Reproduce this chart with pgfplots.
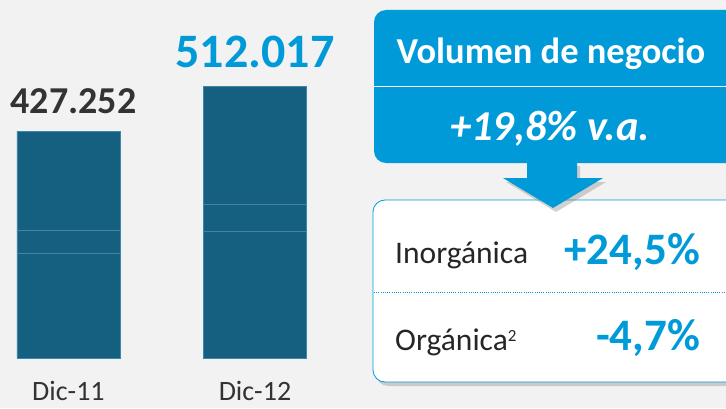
\documentclass[border=0pt]{standalone}
\usepackage{pgfplots}
\pgfplotsset{compat=1.18}
\usepackage{fontspec}
\setmainfont{Carlito}
\usetikzlibrary{shadows}
\definecolor{bgc}{HTML}{F2F2F2}
\definecolor{barc}{HTML}{155F80}
\definecolor{barline}{HTML}{3F86A8}
\definecolor{vablue}{HTML}{009AD8}
\definecolor{darktxt}{HTML}{333333}

\begin{document}
\begin{tikzpicture}
% canvas, 1pt = 1px of the reference
\fill[bgc] (0,0) rectangle (726pt,408pt);
\path[use as bounding box] (0,0) rectangle (726pt,408pt);
\clip (0,0) rectangle (726pt,408pt);

\begin{axis}[
    at={(0pt,49.7pt)}, anchor=south west,
    scale only axis,
    width=360pt, height=358.3pt,
    xmin=-0.367, xmax=1.563,
    ymin=0, ymax=673.8,
    enlargelimits=false,
    ybar stacked,
    bar width=103pt,
    axis x line=bottom, axis y line=none,
    x axis line style={draw=none},
    xtick={0,1},
    xticklabels={Dic-11, Dic-12},
    major tick length=0pt,
    xticklabel style={anchor=base, yshift=-42.5pt, text=darktxt,
        font=\fontsize{28}{32}\selectfont},
    clip=false,
]
\addplot[fill=barc, draw=barline, line width=0.6pt] coordinates {(0,197.4) (1,238.8)};
\addplot[fill=barc, draw=barline, line width=0.6pt] coordinates {(0,43.2) (1,50.8)};
\addplot[fill=barc, draw=barline, line width=0.6pt] coordinates {(0,186.6) (1,222.4)};
\node[anchor=base, text=darktxt, font=\fontsize{38}{44}\selectfont\bfseries,
      xshift=5pt] at (axis cs:0,461) {427.252};
\node[anchor=base, text=vablue, font=\fontsize{48}{56}\selectfont\bfseries]
      at (axis cs:1,546) {512.017};
\end{axis}

% blue summary box
\fill[vablue, rounded corners=12pt] (374pt,245pt) rectangle (740pt,398pt);
\draw[white, line width=1pt] (374pt,321pt) -- (726pt,321pt);
\node[anchor=base, text=white, font=\fontsize{36.5}{42}\selectfont\bfseries]
    at (551pt,344pt) {Volumen de negocio};
\node[anchor=base, text=white, font=\fontsize{42.5}{48}\selectfont\bfseries\itshape]
    at (550pt,268pt) {+19,8\% v.a.};

% white detail box
\filldraw[fill=white, draw=vablue, line width=0.8pt, rounded corners=12pt,
    drop shadow={shadow xshift=3pt, shadow yshift=-4pt, opacity=0.35}]
    (373pt,26pt) rectangle (740pt,208pt);
\draw[vablue, line width=1pt, dash pattern=on 1pt off 1.2pt] (374pt,116pt) -- (726pt,116pt);
\node[anchor=base west, text=black!85, font=\fontsize{31.5}{36}\selectfont, inner sep=0pt]
    at (395pt,145pt) {Inorgánica};
\node[anchor=base east, text=vablue, font=\fontsize{45}{52}\selectfont\bfseries, inner sep=0pt]
    at (700pt,144pt) {+24,5\%};
\node[anchor=base west, text=black!85, font=\fontsize{31.5}{36}\selectfont, inner sep=0pt]
    at (395pt,58pt) {Orgánica{\raisebox{9pt}{\fontsize{17}{20}\selectfont 2}}};
\node[anchor=base east, text=vablue, font=\fontsize{45}{52}\selectfont\bfseries, inner sep=0pt]
    at (700pt,58pt) {-4,7\%};

% arrow
\fill[vablue, drop shadow={shadow xshift=3pt, shadow yshift=-4pt, opacity=0.35}]
    (527pt,246pt) -- (577pt,246pt) -- (577pt,230pt) -- (603pt,230pt)
    -- (553pt,200pt) -- (503pt,230pt) -- (527pt,230pt) -- cycle;
\end{tikzpicture}
\end{document}
